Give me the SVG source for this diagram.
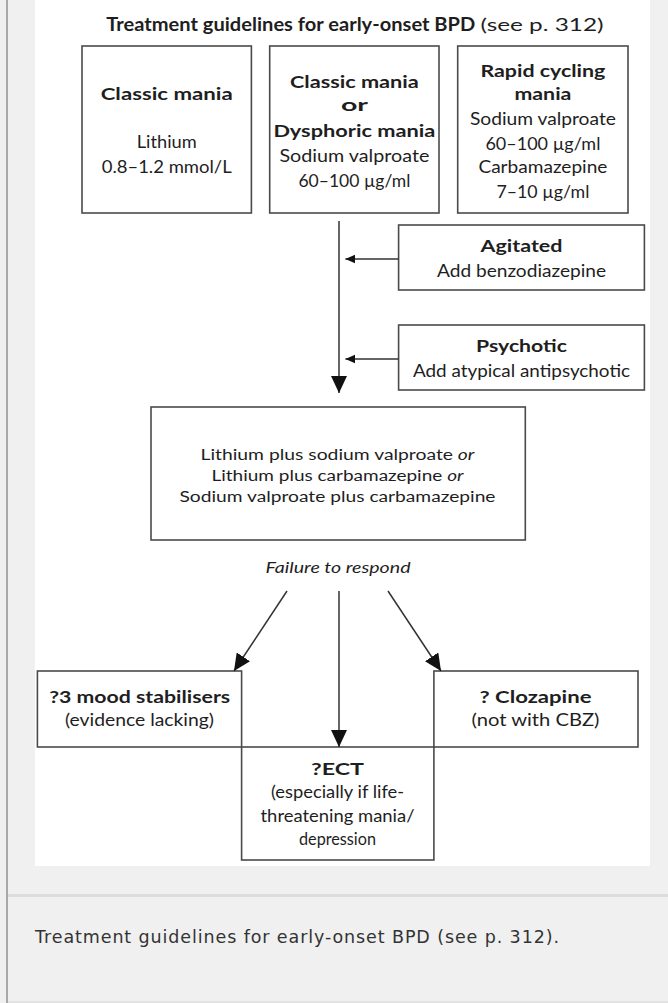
<svg xmlns="http://www.w3.org/2000/svg" width="668" height="1003" viewBox="0 0 668 1003">
<style>
.box{fill:#fff;stroke:#4a4a4a;stroke-width:1.6}
.t{font-family:Lato,"Open Sans","Liberation Sans",sans-serif;fill:#1e1e1e;text-anchor:middle}
.r{font-size:17px}
.b{font-size:17px;font-weight:bold}
.s{font-size:15.5px}
.i{font-style:italic}
.ln{stroke:#333;stroke-width:1.5;fill:none}
.cap{font-family:"DejaVu Sans",Verdana,sans-serif;font-size:17.5px;fill:#333}
</style>
<defs>
<marker id="big" markerUnits="userSpaceOnUse" markerWidth="18" markerHeight="16" refX="17" refY="8" orient="auto"><path d="M0,0 L17,8 L0,16 z" fill="#111"/></marker>
<marker id="sm" markerUnits="userSpaceOnUse" markerWidth="10" markerHeight="10" refX="10" refY="4.5" orient="auto"><path d="M0,0 L10,4.5 L0,9 z" fill="#111"/></marker>
</defs>
<rect width="668" height="1003" fill="#f0f0f0"/>
<rect x="35" y="0" width="615" height="866" fill="#fff"/>
<rect x="8" y="894" width="660" height="3" fill="#dcdcdc"/>
<rect x="6" y="0" width="2" height="1003" fill="#a8a8a8"/>
<rect x="8" y="1001" width="660" height="2" fill="#e2e2e2"/>

<g id="title">
<text class="t b" x="106.3" y="31" style="text-anchor:start;font-size:18px" textLength="369" lengthAdjust="spacingAndGlyphs">Treatment guidelines for early-onset BPD</text>
<text class="t r" x="480.6" y="31" style="text-anchor:start;font-size:18px" textLength="123" lengthAdjust="spacingAndGlyphs">(see p. 312)</text>
</g>

<g id="classic-mania">
<rect class="box" x="82" y="46" width="169.4" height="167"/>
<text class="t b" x="166.7" y="100" textLength="132" lengthAdjust="spacingAndGlyphs">Classic mania</text>
<text class="t r" x="166.7" y="148" textLength="60" lengthAdjust="spacingAndGlyphs">Lithium</text>
<text class="t r" x="166.7" y="173" textLength="130" lengthAdjust="spacingAndGlyphs">0.8–1.2 mmol/L</text>
</g>

<g id="dysphoric-mania">
<rect class="box" x="269.7" y="46" width="169.3" height="167"/>
<text class="t b" x="354.4" y="88" textLength="129" lengthAdjust="spacingAndGlyphs">Classic mania</text>
<text class="t b" x="354.4" y="111" textLength="27" lengthAdjust="spacingAndGlyphs">or</text>
<text class="t b" x="354.4" y="137" textLength="162" lengthAdjust="spacingAndGlyphs">Dysphoric mania</text>
<text class="t r" x="354.4" y="162" textLength="150" lengthAdjust="spacingAndGlyphs">Sodium valproate</text>
<text class="t r" x="354.4" y="187" textLength="112" lengthAdjust="spacingAndGlyphs">60–100 µg/ml</text>
</g>

<g id="rapid-cycling">
<rect class="box" x="457.7" y="46" width="170.3" height="167"/>
<text class="t b" x="542.9" y="77" textLength="125" lengthAdjust="spacingAndGlyphs">Rapid cycling</text>
<text class="t b" x="542.9" y="100" textLength="57" lengthAdjust="spacingAndGlyphs">mania</text>
<text class="t r" x="542.9" y="125" textLength="146" lengthAdjust="spacingAndGlyphs">Sodium valproate</text>
<text class="t r" x="542.9" y="150" textLength="115" lengthAdjust="spacingAndGlyphs">60–100 µg/ml</text>
<text class="t r" x="542.9" y="173" textLength="129" lengthAdjust="spacingAndGlyphs">Carbamazepine</text>
<text class="t r" x="542.9" y="198" textLength="93" lengthAdjust="spacingAndGlyphs">7–10 µg/ml</text>
</g>

<g id="agitated">
<rect class="box" x="398.6" y="225" width="245.8" height="65"/>
<text class="t b" x="521.5" y="252" textLength="82" lengthAdjust="spacingAndGlyphs">Agitated</text>
<text class="t r" x="521.5" y="277" textLength="169" lengthAdjust="spacingAndGlyphs">Add benzodiazepine</text>
</g>

<g id="psychotic">
<rect class="box" x="398.6" y="325" width="245.8" height="65"/>
<text class="t b" x="521.5" y="352" textLength="91" lengthAdjust="spacingAndGlyphs">Psychotic</text>
<text class="t r" x="521.5" y="377" textLength="217" lengthAdjust="spacingAndGlyphs">Add atypical antipsychotic</text>
</g>

<g id="combination">
<rect class="box" x="151" y="407" width="374.3" height="133"/>
<text class="t s" x="337.5" y="460" textLength="274" lengthAdjust="spacingAndGlyphs">Lithium plus sodium valproate <tspan class="i">or</tspan></text>
<text class="t s" x="337.5" y="481" textLength="252" lengthAdjust="spacingAndGlyphs">Lithium plus carbamazepine <tspan class="i">or</tspan></text>
<text class="t s" x="337.5" y="502" textLength="316" lengthAdjust="spacingAndGlyphs">Sodium valproate plus carbamazepine</text>
</g>

<g id="failure">
<text class="t s i" x="338" y="573" textLength="145" lengthAdjust="spacingAndGlyphs">Failure to respond</text>
</g>

<g id="mood-stabilisers">
<rect class="box" x="37.4" y="671" width="204.2" height="76"/>
<text class="t b" x="139.7" y="703" textLength="181" lengthAdjust="spacingAndGlyphs">?3 mood stabilisers</text>
<text class="t r" x="139.5" y="726" textLength="149" lengthAdjust="spacingAndGlyphs">(evidence lacking)</text>
</g>

<g id="clozapine">
<rect class="box" x="433.9" y="671" width="204.1" height="76"/>
<text class="t b" x="535.5" y="703" textLength="112" lengthAdjust="spacingAndGlyphs">? Clozapine</text>
<text class="t r" x="535.5" y="726" textLength="128" lengthAdjust="spacingAndGlyphs">(not with CBZ)</text>
</g>

<g id="ect">
<rect class="box" x="241.6" y="747" width="192.3" height="113"/>
<text class="t b" x="337.5" y="775" textLength="53" lengthAdjust="spacingAndGlyphs">?ECT</text>
<text class="t r" x="337.5" y="798" textLength="133" lengthAdjust="spacingAndGlyphs">(especially if life-</text>
<text class="t r" x="337.5" y="822" textLength="154" lengthAdjust="spacingAndGlyphs">threatening mania/</text>
<text class="t r" x="337.5" y="845" textLength="77" lengthAdjust="spacingAndGlyphs">depression</text>
</g>

<g id="connectors">
<line class="ln" x1="339" y1="221" x2="339" y2="393" marker-end="url(#big)"/>
<line class="ln" x1="398.6" y1="259" x2="345.4" y2="259" marker-end="url(#sm)"/>
<line class="ln" x1="398.6" y1="359" x2="345.4" y2="359" marker-end="url(#sm)"/>
<line class="ln" x1="287" y1="591" x2="234" y2="671" marker-end="url(#big)"/>
<line class="ln" x1="339" y1="591" x2="339" y2="747" marker-end="url(#big)"/>
<line class="ln" x1="388" y1="591" x2="441" y2="671" marker-end="url(#big)"/>
</g>

<g id="caption">
<text class="cap" x="35" y="943" textLength="524" lengthAdjust="spacing">Treatment guidelines for early-onset BPD (see p. 312).</text>
</g>
</svg>
